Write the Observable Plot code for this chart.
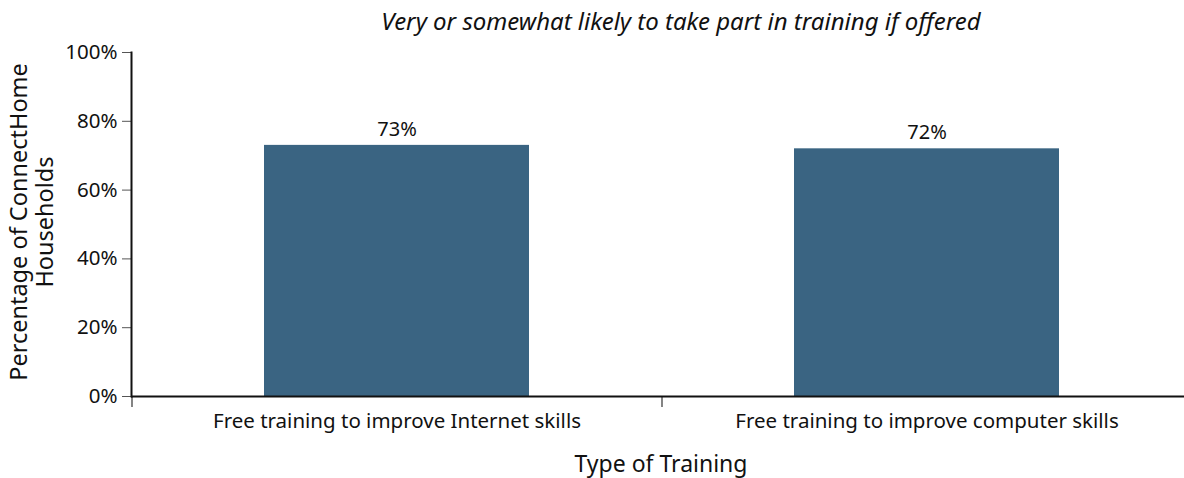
<!DOCTYPE html>
<html><head><meta charset="utf-8">
<script src="https://cdn.jsdelivr.net/npm/d3@7"></script>
<script src="https://cdn.jsdelivr.net/npm/@observablehq/plot@0.6"></script>
<style>
html,body{margin:0;padding:0;background:#fff;}
#chart{width:1184px;height:478px;overflow:hidden;}
svg{overflow:hidden;}
</style>
</head><body><div id="chart"></div>
<script>
const categories = ["Free training to improve Internet skills", "Free training to improve computer skills"];
const values = [0.73, 0.72];
const valueLabels = ["73%", "72%"];
const yTicks = [0, 0.2, 0.4, 0.6, 0.8, 1.0];
const title = "Very or somewhat likely to take part in training if offered";
const xLabel = "Type of Training";
const yLabelLines = ["Percentage of ConnectHome", "Households"];

const data = categories.map((c, i) => ({category: c, value: values[i], label: valueLabels[i]}));
const font = "'Noto Sans', 'Open Sans', sans-serif";

const plot = Plot.plot({
  width: 1184,
  height: 478,
  marginLeft: 131,
  marginRight: 0,
  marginTop: 52,
  marginBottom: 82,
  style: {fontFamily: font, fontSize: "18px", color: "#111", background: "#fff"},
  x: {domain: categories, range: [131, 1191], paddingInner: 0.5, paddingOuter: 0.25, label: null},
  y: {domain: [0, 1], label: null},
  marks: [
    Plot.barY(data, {x: "category", y: "value", fill: "#3a6482"}),
    Plot.text(data, {x: "category", y: "value", text: "label", dy: -16, fontSize: 20, fill: "#111"}),
    Plot.axisY({ticks: yTicks, tickFormat: d3.format(".0%"), tickSize: 9, tickPadding: 5, fontSize: 20.5, stroke: "#555", label: null}),
    Plot.axisX({tickSize: 0, tickPadding: 17, fontSize: 20.5, label: null}),
    Plot.ruleX(categories, {x: d => d, y1: 0, y2: -0.032, dx: -265, stroke: "#333", strokeWidth: 1.2}),
    Plot.ruleY([0], {stroke: "#111", strokeWidth: 2}),
    Plot.frame({anchor: "left", stroke: "#111", strokeWidth: 2})
  ]
});

const svg = d3.select(plot);
svg.append("text")
  .attr("x", 681).attr("y", 30)
  .attr("text-anchor", "middle")
  .attr("font-family", font).attr("font-style", "italic")
  .attr("font-size", 24).attr("fill", "#111")
  .text(title);
svg.append("text")
  .attr("x", 661).attr("y", 472)
  .attr("text-anchor", "middle")
  .attr("font-family", font)
  .attr("font-size", 23).attr("fill", "#111")
  .text(xLabel);
const yl = svg.append("text")
  .attr("transform", "translate(27,222) rotate(-90)")
  .attr("text-anchor", "middle")
  .attr("font-family", font)
  .attr("font-size", 23.5).attr("fill", "#111");
yLabelLines.forEach((t, i) => yl.append("tspan").attr("x", 0).attr("dy", i === 0 ? "0" : "1.1em").text(t));

document.getElementById("chart").appendChild(plot);
</script>
</body></html>
